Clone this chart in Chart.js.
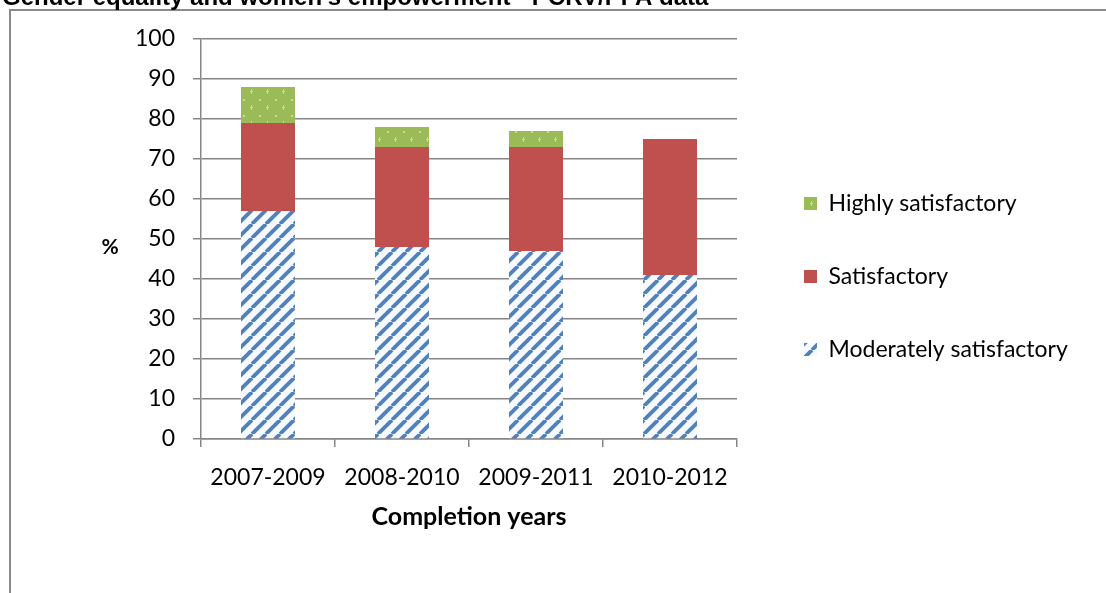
<!DOCTYPE html>
<html><head><meta charset="utf-8">
<style>html,body{margin:0;padding:0;background:#fff;overflow:hidden}</style>
<script src="https://cdn.jsdelivr.net/npm/chart.js@4.4.1/dist/chart.umd.min.js"></script>
</head><body>
<canvas id="c" width="1106" height="593" style="display:block;width:1106px;height:593px"></canvas>
<script>
const categories = ['2007-2009', '2008-2010', '2009-2011', '2010-2012'];
const moderatelySatisfactory = [57, 48, 47, 41];
const satisfactory = [22, 25, 26, 34];
const highlySatisfactory = [9, 5, 4, 0];
const seriesNames = ['Moderately satisfactory', 'Satisfactory', 'Highly satisfactory'];
const yTicks = [0, 10, 20, 30, 40, 50, 60, 70, 80, 90, 100];
const chartTitle = "Gender equality and women's empowerment - PCRV/PPA data";
const xTitle = 'Completion years';
const yTitle = '%';

const canvas = document.getElementById('c');
const ctx = canvas.getContext('2d');

function makeHatch() {
  const P = 14, t = document.createElement('canvas');
  t.width = t.height = P;
  const g = t.getContext('2d');
  g.fillStyle = '#f6f9fd'; g.fillRect(0, 0, P, P);
  g.strokeStyle = '#4F81BD'; g.lineWidth = 3.8;
  for (const o of [-P, 0, P]) { g.beginPath(); g.moveTo(o, P); g.lineTo(o + P, 0); g.stroke(); }
  return ctx.createPattern(t, 'repeat');
}
function makeDots() {
  const P = 16, t = document.createElement('canvas');
  t.width = t.height = P;
  const g = t.getContext('2d');
  g.fillStyle = '#9BBB59'; g.fillRect(0, 0, P, P);
  g.fillStyle = '#c9dc9f';
  g.fillRect(3, 3, 2, 2);
  g.fillRect(11, 9, 1, 5); g.fillRect(10, 11, 3, 1);
  return ctx.createPattern(t, 'repeat');
}

const font = 'Lato, Carlito, Calibri, sans-serif';
const GRID = '#868686';

const decor = {
  id: 'decor',
  afterLayout(chart) {
    // let the legend text run past the fixed legend box
    chart.legend.right = chart.width;
    chart.legend.width = chart.legend.right - chart.legend.left;
  },
  beforeDraw(chart) {
    const c = chart.ctx;
    c.save();
    c.strokeStyle = '#8a8a8a'; c.lineWidth = 2;
    c.beginPath(); c.moveTo(10, 593); c.lineTo(10, 10); c.lineTo(1106, 10); c.stroke();
    c.fillStyle = '#000';
    c.font = 'bold 24px "Liberation Sans", Arial, sans-serif';
    c.textBaseline = 'alphabetic'; c.textAlign = 'left';
    c.fillText(chartTitle, 2, 5);
    c.font = 'bold 21px ' + font;
    c.textAlign = 'center'; c.textBaseline = 'middle';
    c.fillText(yTitle, 110, 247);
    c.restore();
  }
};

new Chart(canvas, {
  type: 'bar',
  data: {
    labels: categories,
    datasets: [
      { label: seriesNames[0], data: moderatelySatisfactory, backgroundColor: makeHatch() },
      { label: seriesNames[1], data: satisfactory, backgroundColor: '#C0504D' },
      { label: seriesNames[2], data: highlySatisfactory, backgroundColor: makeDots() }
    ]
  },
  options: {
    responsive: false,
    devicePixelRatio: 1,
    animation: false,
    layout: { padding: { left: 10, top: 39, right: 202, bottom: 79 } },
    datasets: { bar: { categoryPercentage: 1, barPercentage: 0.403, borderWidth: 0 } },
    plugins: {
      title: { display: false },
      tooltip: { enabled: false },
      legend: {
        position: 'right',
        reverse: true,
        maxWidth: 150,
        labels: {
          boxWidth: 13, boxHeight: 13, padding: 50,
          color: '#000', font: { family: font, size: 23 }
        }
      }
    },
    scales: {
      x: {
        stacked: true,
        grid: { drawOnChartArea: false, tickLength: 8, color: GRID, lineWidth: 1.5 },
        border: { color: GRID, width: 1.5 },
        ticks: { padding: 17, color: '#000', font: { family: font, size: 23 } },
        title: { display: true, text: xTitle, color: '#000', font: { family: font, size: 25, weight: 'bold' }, padding: { top: 0, bottom: -18 } },
        afterFit(s) { s.height = 75; }
      },
      y: {
        stacked: true,
        min: 0, max: 100,
        afterBuildTicks(s) { s.ticks = yTicks.map(v => ({ value: v })); },
        grid: { color: GRID, lineWidth: 1.5, tickLength: 8 },
        border: { color: GRID, width: 1.5 },
        ticks: { padding: 18, color: '#000', font: { family: font, size: 23 } },
        afterFit(s) { s.width = 191; }
      },
      yR: {
        position: 'right',
        display: true,
        grid: { display: false, drawTicks: false },
        border: { display: false },
        ticks: { display: false },
        afterFit(s) { s.width = 17; }
      }
    }
  },
  plugins: [decor]
});
</script>
</body></html>
